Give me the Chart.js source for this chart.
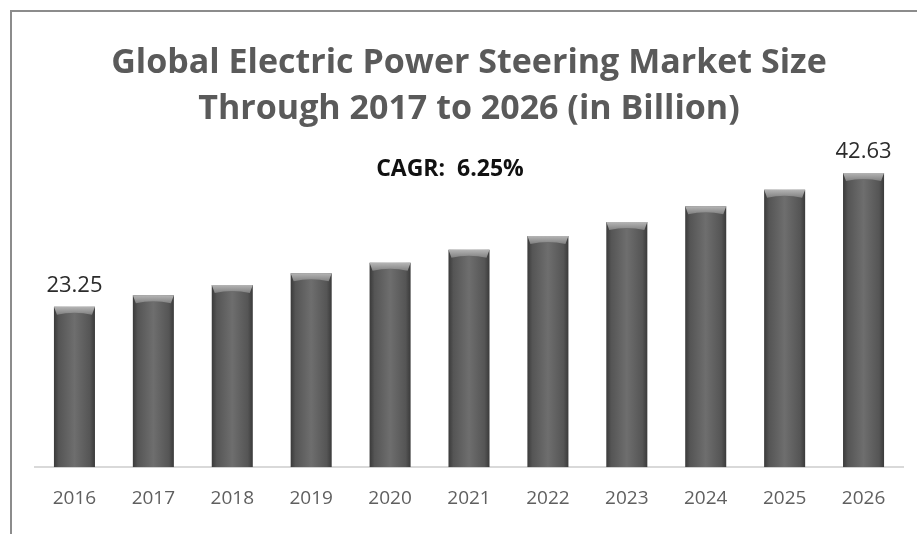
<!DOCTYPE html>
<html>
<head>
<meta charset="utf-8">
<script src="https://cdn.jsdelivr.net/npm/chart.js@4.4.1/dist/chart.umd.min.js"></script>
<style>
    body { margin: 0; background: #fff; }
    #wrap { position: relative; width: 917px; height: 534px; overflow: hidden; }
    #frame { position: absolute; left: 10px; top: 10px; width: 920px; height: 540px;
        border-left: 2px solid #8c8c8c; border-top: 2px solid #8c8c8c; }
    #title { position: absolute; left: 0; width: 938px; top: 37px; text-align: center;
        font-family: "Open Sans", sans-serif; font-weight: bold; font-size: 34px;
        line-height: 46px; color: #5a5a5a; }
    #cagr { position: absolute; left: 0; width: 900px; top: 151px; text-align: center;
        font-family: "Open Sans", sans-serif; font-weight: bold; font-size: 23px; color: #111; }
    canvas { position: absolute; left: 0; top: 0; }
</style>
</head>
<body>
<div id="wrap">
    <canvas id="chart" width="917" height="534"></canvas>
    <div id="frame"></div>
    <div id="title">Global Electric Power Steering Market Size<br>Through 2017 to 2026 (in Billion)</div>
    <div id="cagr">CAGR:&nbsp; 6.25%</div>
</div>
<script>
const years = ["2016", "2017", "2018", "2019", "2020", "2021", "2022", "2023", "2024", "2025", "2026"]
const marketSize = [23.25, 24.9, 26.4, 28.1, 29.6, 31.5, 33.5, 35.5, 37.8, 40.2, 42.63]
// only first and last bar carry a value label
const labelled = [0, 10]

function barFill(context) {
    const chart = context.chart
    const xs = chart.scales.x
    if (!xs || !chart.chartArea) return "#666"
    const cx = xs.getPixelForValue(context.dataIndex)
    const half = 20.5
    const g = chart.ctx.createLinearGradient(cx - half, 0, cx + half, 0)
    g.addColorStop(0, "#3a3a3a")
    g.addColorStop(0.12, "#555")
    g.addColorStop(0.5, "#6e6e6e")
    g.addColorStop(0.88, "#555")
    g.addColorStop(1, "#3a3a3a")
    return g
}

// light bevel on top of each bar + the two value labels
const barDecor = {
    id: "barDecor",
    afterDatasetsDraw(chart) {
        const ctx = chart.ctx
        const meta = chart.getDatasetMeta(0)
        meta.data.forEach((bar, i) => {
            const l = bar.x - bar.width / 2
            const r = bar.x + bar.width / 2
            const t = bar.y
            ctx.save()
            const g = ctx.createLinearGradient(0, t, 0, t + 9)
            g.addColorStop(0, "#b5b5b5")
            g.addColorStop(1, "#7a7a7a")
            ctx.fillStyle = g
            ctx.beginPath()
            ctx.moveTo(l, t)
            ctx.lineTo(r, t)
            ctx.lineTo(r - 3, t + 8)
            ctx.quadraticCurveTo(bar.x, t + 4, l + 3, t + 8)
            ctx.closePath()
            ctx.fill()
            ctx.restore()

            if (labelled.includes(i)) {
                ctx.save()
                ctx.font = "22px 'Open Sans', sans-serif"
                ctx.fillStyle = "#2b2b2b"
                ctx.textAlign = "center"
                ctx.textBaseline = "middle"
                ctx.fillText(marketSize[i].toFixed(2), bar.x, t - 21)
                ctx.restore()
            }
        })
    }
}

new Chart(document.getElementById("chart"), {
    type: "bar",
    data: {
        labels: years,
        datasets: [{
            data: marketSize,
            backgroundColor: barFill,
            borderWidth: 0,
            categoryPercentage: 1,
            barPercentage: 0.52
        }]
    },
    options: {
        responsive: false,
        devicePixelRatio: 1,
        animation: false,
        layout: { padding: { left: 35, right: 14, top: 122, bottom: 12 } },
        plugins: {
            legend: { display: false },
            tooltip: { enabled: false }
        },
        scales: {
            x: {
                grid: { display: false },
                border: { display: true, color: "#d9d9d9", width: 2 },
                ticks: {
                    padding: 12,
                    color: "#5f5f5f",
                    font: { family: "'Open Sans', sans-serif", size: 19 }
                }
            },
            y: {
                display: false,
                min: 0,
                max: 50
            }
        }
    },
    plugins: [barDecor]
})
</script>
</body>
</html>
